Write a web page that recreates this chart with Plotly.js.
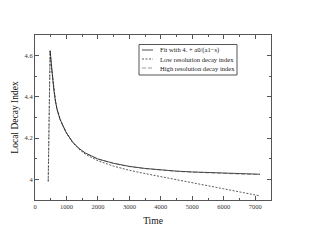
<!DOCTYPE html>
<html>
<head>
<meta charset="utf-8">
<script src="https://cdn.plot.ly/plotly-3.0.1.min.js"></script>
<style>html,body{margin:0;padding:0;background:#fff;}#chart{width:314px;height:243px;}</style>
</head>
<body>
<div id="chart"></div>
<script>
// ---- data ----
const seriesNames = ["Fit with 4. + a0/(a1\u2212s)", "Low resolution decay index", "High resolution decay index"];

const fitTime = [480, 520, 560, 600, 650, 700, 800, 900, 1000, 1200, 1400, 1600, 1800, 2000, 2500, 3000, 3500, 4000, 4500, 5000, 5500, 6000, 6500, 7000, 7150];
const fitValue = [4.625, 4.55, 4.49, 4.43, 4.38, 4.34, 4.29, 4.255, 4.225, 4.18, 4.15, 4.128, 4.112, 4.099, 4.078, 4.063, 4.053, 4.046, 4.040, 4.036, 4.033, 4.030, 4.028, 4.026, 4.025];

const lowTime = [420, 440, 460, 480, 520, 560, 600, 650, 700, 800, 900, 1000, 1200, 1400, 1600, 1800, 2000, 2500, 3000, 3500, 4000, 4500, 5000, 5500, 6000, 6500, 7000, 7150];
const lowValue = [3.99, 4.3, 4.6, 4.622, 4.55, 4.49, 4.43, 4.38, 4.34, 4.29, 4.255, 4.225, 4.178, 4.146, 4.122, 4.104, 4.09, 4.064, 4.044, 4.028, 4.014, 3.999, 3.984, 3.969, 3.954, 3.939, 3.924, 3.92];

const highTime = [420, 440, 460, 480, 520, 560, 600, 650, 700, 800, 900, 1000, 1200, 1400, 1600, 1800, 2000, 2500, 3000, 3500, 4000, 4500, 5000, 5500, 6000, 6500, 7000, 7150];
const highValue = [3.99, 4.3, 4.6, 4.625, 4.55, 4.49, 4.43, 4.38, 4.34, 4.29, 4.255, 4.225, 4.18, 4.15, 4.127, 4.111, 4.098, 4.077, 4.062, 4.052, 4.045, 4.039, 4.035, 4.031, 4.028, 4.026, 4.024, 4.023];

const xTickVals = [0, 1000, 2000, 3000, 4000, 5000, 6000, 7000];
const yTickVals = [4, 4.2, 4.4, 4.6];

// ---- layout helpers ----
const W = 314, H = 243;
const M = {l: 35, r: 43, t: 35, b: 43};
const PW = W - M.l - M.r, PH = H - M.t - M.b;
const px = x => (x - M.l) / PW;
const py = y => (H - M.b - y) / PH;

const styles = [
  {color: '#222', width: 0.8, dash: 'solid'},
  {color: '#333', width: 0.8, dash: '2px,1.5px'},
  {color: '#9a9a9a', width: 1, dash: '4px,2px'}
];

const traces = [
  {x: highTime, y: highValue, name: seriesNames[2], mode: 'lines', line: styles[2]},
  {x: lowTime, y: lowValue, name: seriesNames[1], mode: 'lines', line: styles[1]},
  {x: fitTime, y: fitValue, name: seriesNames[0], mode: 'lines', line: styles[0]}
];

const font = 'Liberation Serif, Times New Roman, serif';

// custom compact legend
const legRowY = [50, 59, 68];
const shapes = [{
  type: 'rect', xref: 'paper', yref: 'paper',
  x0: px(139), x1: px(237), y0: py(75), y1: py(44.5),
  line: {color: '#555', width: 1}, fillcolor: 'white', layer: 'above'
}];
const annotations = [];
for (let i = 0; i < 3; i++) {
  shapes.push({
    type: 'line', xref: 'paper', yref: 'paper',
    x0: px(142), x1: px(153), y0: py(legRowY[i]), y1: py(legRowY[i]),
    line: styles[i], layer: 'above'
  });
  annotations.push({
    xref: 'paper', yref: 'paper', x: px(158), y: py(legRowY[i]),
    xanchor: 'left', yanchor: 'middle', showarrow: false,
    text: seriesNames[i], font: {family: font, size: 6.6, color: '#222'}
  });
}

const axisCommon = {
  showgrid: false, zeroline: false, showline: true, linecolor: '#555', linewidth: 1,
  mirror: 'allticks', ticks: 'inside', ticklen: 4, tickcolor: '#555', tickwidth: 1,
  tickfont: {family: font, size: 6.5, color: '#333'}
};

const layout = {
  width: W, height: H, margin: M,
  paper_bgcolor: 'white', plot_bgcolor: 'white',
  showlegend: false,
  xaxis: Object.assign({}, axisCommon, {
    range: [0, 7500], tickvals: xTickVals,
    minor: {dtick: 500, tick0: 0, ticks: 'inside', ticklen: 2, tickcolor: '#555'},
    title: {text: 'Time', font: {family: font, size: 9.5, color: '#111'}, standoff: 8}
  }),
  yaxis: Object.assign({}, axisCommon, {
    range: [3.9, 4.7], tickvals: yTickVals,
    minor: {dtick: 0.1, tick0: 0, ticks: 'inside', ticklen: 2, tickcolor: '#555'},
    title: {text: 'Local Decay Index', font: {family: font, size: 9.5, color: '#111'}, standoff: 4}
  }),
  shapes: shapes,
  annotations: annotations
};

Plotly.newPlot('chart', traces, layout, {staticPlot: true, displayModeBar: false});
</script>
</body>
</html>
